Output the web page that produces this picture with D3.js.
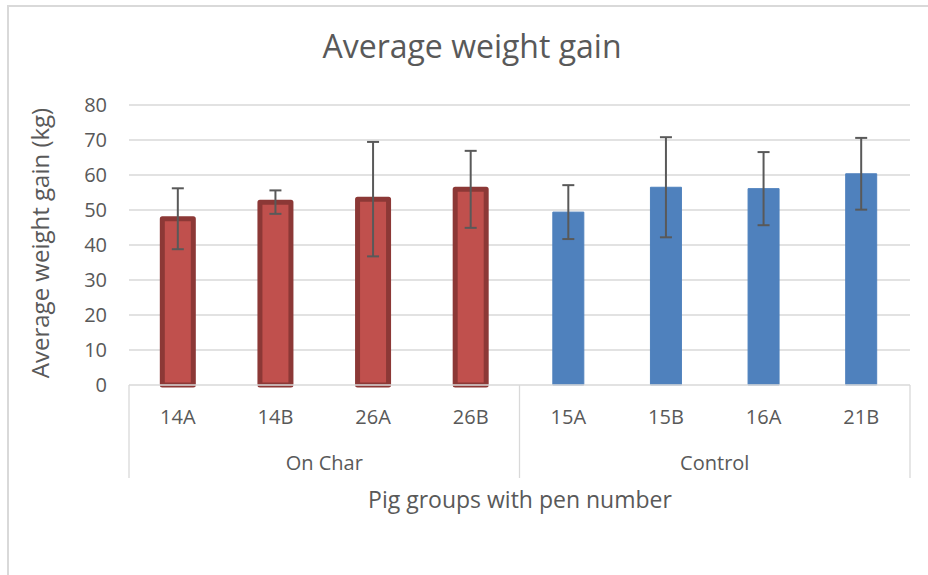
<!DOCTYPE html>
<html><head><meta charset="utf-8">
<script src="https://cdn.jsdelivr.net/npm/d3@7"></script>
<style>
body{margin:0;background:#fff;}
svg text{font-family:"Open Sans","Noto Sans",sans-serif;fill:#595959;}
</style></head>
<body>
<svg id="chart" width="928" height="575"></svg>
<script>
const categories = ["14A","14B","26A","26B","15A","15B","16A","21B"];
const groups = ["On Char","On Char","On Char","On Char","Control","Control","Control","Control"];
const groupNames = ["On Char","Control"];
const means = [47.5, 52.25, 53.1, 55.9, 49.4, 56.5, 56.1, 60.35];
const errors = [8.7, 3.35, 16.35, 11.0, 7.7, 14.3, 10.45, 10.25];
const yTicks = [0,10,20,30,40,50,60,70,80];

(function(){
const svg = d3.select("#chart");
const pLeft = 129, pRight = 910, pTop = 105, pBottom = 385;

svg.append("rect").attr("x",8).attr("y",6).attr("width",940).attr("height",600)
  .attr("fill","#fff").attr("stroke","#d9d9d9").attr("stroke-width",2);

const x = d3.scaleBand().domain(categories).range([pLeft,pRight]).paddingInner(0).paddingOuter(0);
const y = d3.scaleLinear().domain([0,80]).range([pBottom,pTop]);

svg.append("g").selectAll("line").data(yTicks.filter(d=>d>0)).join("line")
  .attr("x1",pLeft).attr("x2",pRight).attr("y1",d=>y(d)).attr("y2",d=>y(d))
  .attr("stroke","#d9d9d9").attr("stroke-width",1.3);

svg.append("g").selectAll("text").data(yTicks).join("text")
  .attr("x",107).attr("y",d=>y(d)).attr("dy","0.36em").attr("text-anchor","end")
  .attr("font-size",20).text(d=>d);

const bw = 31;
categories.forEach((c,i)=>{
  const onChar = groups[i]==="On Char";
  const cx = x(c)+x.bandwidth()/2;
  svg.append("rect")
    .attr("x",cx-bw/2).attr("y",y(means[i])).attr("width",bw).attr("height",y(0)-y(means[i]))
    .attr("fill",onChar?"#c0504d":"#4f81bd")
    .attr("stroke",onChar?"#8c3836":"#4f81bd")
    .attr("stroke-width",onChar?5:1)
    .attr("stroke-linejoin","round");
});

svg.append("line").attr("x1",pLeft).attr("x2",pRight).attr("y1",pBottom).attr("y2",pBottom)
  .attr("stroke","#d9d9d9").attr("stroke-width",1.3);
const sepX = [pLeft, x(categories[4]), pRight];
svg.append("g").selectAll("line").data(sepX).join("line")
  .attr("x1",d=>d).attr("x2",d=>d).attr("y1",pBottom).attr("y2",478)
  .attr("stroke","#d9d9d9").attr("stroke-width",1.3);

const eb = svg.append("g").attr("stroke","#595959").attr("stroke-width",2);
categories.forEach((c,i)=>{
  const cx = x(c)+x.bandwidth()/2;
  const hi = y(means[i]+errors[i]), lo = y(means[i]-errors[i]);
  eb.append("line").attr("x1",cx).attr("x2",cx).attr("y1",hi).attr("y2",lo);
  eb.append("line").attr("x1",cx-6).attr("x2",cx+6).attr("y1",hi).attr("y2",hi);
  eb.append("line").attr("x1",cx-6).attr("x2",cx+6).attr("y1",lo).attr("y2",lo);
});

svg.append("g").selectAll("text").data(categories).join("text")
  .attr("x",d=>x(d)+x.bandwidth()/2).attr("y",424).attr("text-anchor","middle")
  .attr("font-size",20).text(d=>d);

groupNames.forEach(g=>{
  const idx = categories.map((c,i)=>i).filter(i=>groups[i]===g);
  const x0 = x(categories[idx[0]]), x1 = x(categories[idx[idx.length-1]])+x.bandwidth();
  svg.append("text").attr("x",(x0+x1)/2).attr("y",470).attr("text-anchor","middle")
    .attr("font-size",20).text(g);
});

svg.append("text").attr("x",472).attr("y",58).attr("text-anchor","middle")
  .attr("font-size",32).text("Average weight gain");
svg.append("text").attr("x",520).attr("y",508).attr("text-anchor","middle")
  .attr("font-size",23).text("Pig groups with pen number");
svg.append("text").attr("transform","translate(49,243) rotate(-90)").attr("text-anchor","middle")
  .attr("font-size",24).text("Average weight gain (kg)");
})();
</script>
</body></html>
